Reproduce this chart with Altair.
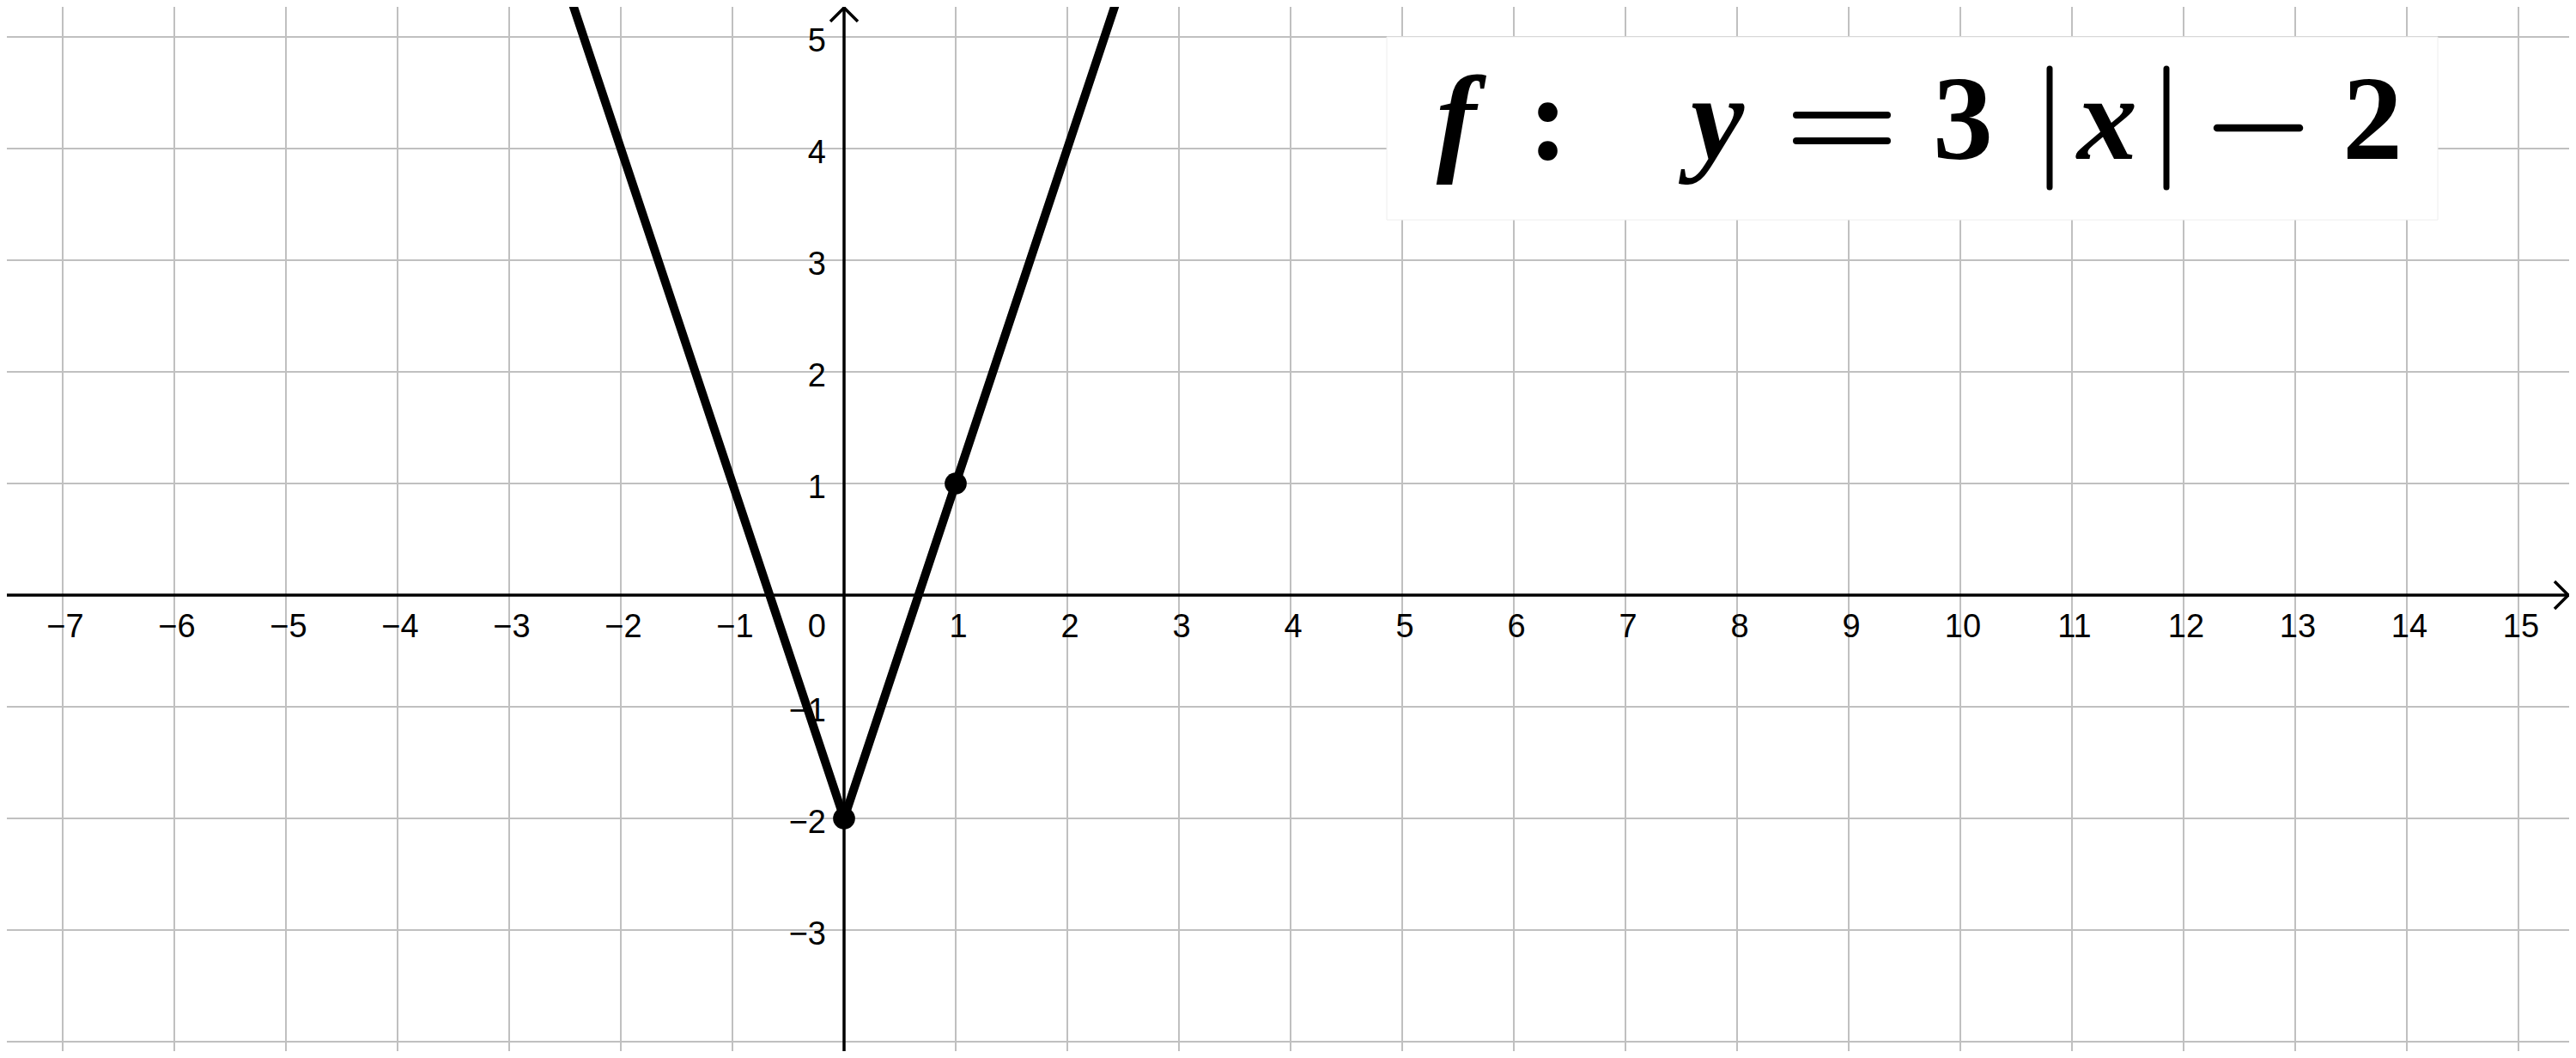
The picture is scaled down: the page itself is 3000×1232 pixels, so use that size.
import altair as alt
import pandas as pd

# ---- data ----
x_grid = list(range(-7, 16))
y_grid = list(range(-4, 6))
x_tick_values = [v for v in range(-7, 16) if v != 0]
y_tick_values = [5, 4, 3, 2, 1, -1, -2, -3]
curve_x = [-2.6, 0.0, 2.6]
curve_y = [5.8, -2.0, 5.8]
point_x = [0, 1]
point_y = [-2, 1]

# ---- layout ----
W, H = 2984, 1216
UNIT = 130.0            # px per unit
OX, OY = 983 - 8, 693 - 8   # origin in plot pixels
X_DOM = [(-OX) / UNIT, (W - OX) / UNIT]
Y_DOM = [(OY - H) / UNIT, OY / UNIT]
xs = alt.Scale(domain=X_DOM, nice=False, zero=False)
ys = alt.Scale(domain=Y_DOM, nice=False, zero=False)


def fmt(v):
    return str(v).replace("-", "\u2212")


grid_col = "#c0c0c0"
gx = alt.Chart(pd.DataFrame({"v": x_grid})).mark_rule(color=grid_col, strokeWidth=2).encode(
    x=alt.X("v:Q", scale=xs, axis=None))
gy = alt.Chart(pd.DataFrame({"v": y_grid})).mark_rule(color=grid_col, strokeWidth=2).encode(
    y=alt.Y("v:Q", scale=ys, axis=None))

# formula box (white, covering the grid)
box_df = pd.DataFrame({"x": [(1615 - 983) / UNIT], "x2": [(2839 - 983) / UNIT],
                       "y": [(693 - 43) / UNIT], "y2": [(693 - 256) / UNIT]})
box = alt.Chart(box_df).mark_rect(fill="white", stroke="#eeeeee", strokeWidth=1).encode(
    x=alt.X("x:Q", scale=xs, axis=None), x2="x2:Q",
    y=alt.Y("y:Q", scale=ys, axis=None), y2="y2:Q")

# axes
ax_x = alt.Chart(pd.DataFrame({"v": [0]})).mark_rule(color="black", strokeWidth=3.5).encode(
    y=alt.Y("v:Q", scale=ys, axis=None))
ax_y = alt.Chart(pd.DataFrame({"v": [0]})).mark_rule(color="black", strokeWidth=3.5).encode(
    x=alt.X("v:Q", scale=xs, axis=None))

a = 16 / UNIT
tip_y = (OY - 1) / UNIT
tip_x = (W - 1 - OX) / UNIT
arrow_df = pd.DataFrame({
    "x": [-a, 0, a, tip_x - a, tip_x, tip_x - a],
    "y": [tip_y - a, tip_y, tip_y - a, a, 0, -a],
    "g": ["y", "y", "y", "x", "x", "x"],
    "o": [0, 1, 2, 0, 1, 2],
})
arrows = alt.Chart(arrow_df).mark_line(color="black", strokeWidth=3.5, strokeJoin="miter").encode(
    x=alt.X("x:Q", scale=xs, axis=None), y=alt.Y("y:Q", scale=ys, axis=None),
    detail="g:N", order="o:Q")

# tick labels
xl_df = pd.DataFrame({"v": x_tick_values, "z": [0] * len(x_tick_values),
                      "t": [fmt(v) for v in x_tick_values]})
xl = alt.Chart(xl_df).mark_text(font="Liberation Sans", fontSize=38, color="black",
                                align="center", baseline="alphabetic", dx=3, dy=49).encode(
    x=alt.X("v:Q", scale=xs, axis=None), y=alt.Y("z:Q", scale=ys, axis=None), text="t:N")
yl_df = pd.DataFrame({"v": y_tick_values, "z": [0] * len(y_tick_values),
                      "t": [fmt(v) for v in y_tick_values]})
yl = alt.Chart(yl_df).mark_text(font="Liberation Sans", fontSize=38, color="black",
                                align="right", baseline="alphabetic", dx=-21, dy=17).encode(
    x=alt.X("z:Q", scale=xs, axis=None), y=alt.Y("v:Q", scale=ys, axis=None), text="t:N")
zl = alt.Chart(pd.DataFrame({"z": [0], "t": ["0"]})).mark_text(
    font="Liberation Sans", fontSize=38, color="black",
    align="right", baseline="alphabetic", dx=-21, dy=49).encode(
    x=alt.X("z:Q", scale=xs, axis=None), y=alt.Y("z:Q", scale=ys, axis=None), text="t:N")

# function
curve_df = pd.DataFrame({"x": curve_x, "y": curve_y, "o": list(range(len(curve_x)))})
curve = alt.Chart(curve_df).mark_line(color="black", strokeWidth=10, clip=True,
                                      strokeJoin="miter").encode(
    x=alt.X("x:Q", scale=xs, axis=None), y=alt.Y("y:Q", scale=ys, axis=None), order="o:Q")
pts = alt.Chart(pd.DataFrame({"x": point_x, "y": point_y})).mark_circle(
    size=660, color="black", opacity=1).encode(
    x=alt.X("x:Q", scale=xs, axis=None), y=alt.Y("y:Q", scale=ys, axis=None))

# formula  f :  y = 3 |x| - 2   (screen px -> plot px)
S = 8
BASE = 185 - S
ital_df = pd.DataFrame({"g": ["f", "y", "x"], "px": [1696 - S, 2000 - S, 2454 - S]})
ital = alt.Chart(ital_df).mark_text(font="Liberation Serif", fontSize=140, fontStyle="italic",
                                    fontWeight="bold", color="black", align="center",
                                    baseline="alphabetic").encode(
    x=alt.X("px:Q", scale=None), y=alt.value(BASE), text="g:N")
up_df = pd.DataFrame({"g": [":", "3", "2"], "px": [1803 - S, 2286 - S, 2763 - S]})
up = alt.Chart(up_df).mark_text(font="Liberation Serif", fontSize=140,
                                fontWeight="bold", color="black", align="center",
                                baseline="alphabetic").encode(
    x=alt.X("px:Q", scale=None), y=alt.value(BASE), text="g:N")
bars_df = pd.DataFrame({
    "x": [2092, 2092, 2387, 2523, 2582],
    "x2": [2198, 2198, 2387, 2523, 2678],
    "y": [134, 164, 80, 80, 149],
    "y2": [134, 164, 218, 218, 149],
    "w": [8, 8, 7, 7, 8.5],
})
for c in ["x", "x2", "y", "y2"]:
    bars_df[c] = bars_df[c] - S
bars = alt.Chart(bars_df).mark_rule(color="black", strokeCap="round").encode(
    x=alt.X("x:Q", scale=None), x2="x2:Q", y=alt.Y("y:Q", scale=None), y2="y2:Q",
    strokeWidth=alt.StrokeWidth("w:Q", scale=None, legend=None))

chart = alt.layer(gx, gy, box, ax_x, ax_y, arrows, xl, yl, zl, curve, pts, ital, up, bars).properties(
    width=W, height=H, padding=0, autosize=alt.AutoSizeParams(type="none"), background="white"
).configure_view(strokeWidth=0)

chart.save("out.html", embed_options={"renderer": "svg", "actions": False})
